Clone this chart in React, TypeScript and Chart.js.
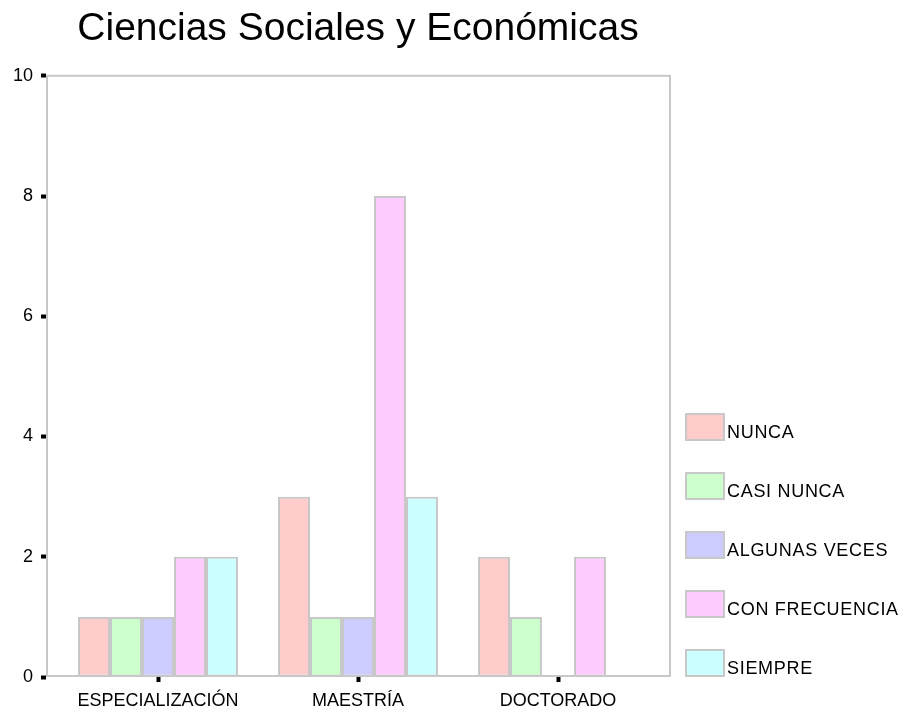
import { useEffect, useRef } from "react";
import { Chart, registerables } from "chart.js";

Chart.register(...registerables);

const categories = ["ESPECIALIZACIÓN", "MAESTRÍA", "DOCTORADO"];
const seriesNames = ["NUNCA", "CASI NUNCA", "ALGUNAS VECES", "CON FRECUENCIA", "SIEMPRE"];
const nunca = [1, 3, 2];
const casiNunca = [1, 1, 1];
const algunasVeces = [1, 1, 0];
const conFrecuencia = [2, 8, 2];
const siempre = [2, 3, 0];
const yTicks = [0, 2, 4, 6, 8, 10];
const seriesColors = ["#ffcccc", "#ccffcc", "#ccccff", "#ffccff", "#ccffff"];
const titleText = "Ciencias Sociales y Económicas";

const FONT = "'Liberation Sans', Arial, Helvetica, sans-serif";
const EDGE = "#c8c8c8";

const framePlugin = {
  id: "frame",
  beforeDatasetsDraw(chart: any) {
    const { ctx, chartArea: a } = chart;
    ctx.save();
    ctx.strokeStyle = EDGE;
    ctx.lineWidth = 2;
    ctx.strokeRect(a.left + 1, a.top, a.right - a.left - 1, a.bottom - a.top - 1);
    ctx.restore();
  },
};

const sideLegend = {
  id: "sideLegend",
  afterDraw(chart: any) {
    const { ctx, chartArea: a } = chart;
    const ds = chart.data.datasets;
    const n = ds.length;
    const boxW = 40;
    const boxH = 28;
    const step = 59;
    ctx.save();
    ds.forEach((d: any, i: number) => {
      const x = a.right + 15;
      const y = a.bottom - boxH - (n - 1 - i) * step;
      ctx.fillStyle = d.backgroundColor;
      ctx.fillRect(x, y, boxW, boxH);
      ctx.strokeStyle = EDGE;
      ctx.lineWidth = 2;
      ctx.strokeRect(x + 1, y + 1, boxW - 2, boxH - 2);
      ctx.fillStyle = "#000";
      ctx.font = `18px ${FONT}`;
      try {
        (ctx as any).letterSpacing = "0.7px";
      } catch (e) {}
      ctx.textAlign = "left";
      ctx.textBaseline = "alphabetic";
      ctx.fillText(d.label, x + boxW + 2, y + 25);
    });
    ctx.restore();
  },
};

export default function App() {
  const ref = useRef<HTMLCanvasElement | null>(null);

  useEffect(() => {
    if (!ref.current) return;
    const values = [nunca, casiNunca, algunasVeces, conFrecuencia, siempre];
    const chart = new Chart(ref.current, {
      type: "bar",
      data: {
        datasets: seriesNames.map((name, i) => ({
          label: name,
          data: values[i].map((v, j) => ({ x: j, y: v })),
          backgroundColor: seriesColors[i],
          borderColor: EDGE,
          borderWidth: (c: any) => (c.raw && c.raw.y === 0 ? 0 : 2),
          borderSkipped: false,
          categoryPercentage: 0.8,
          barPercentage: 1,
        })),
      },
      options: {
        responsive: false,
        animation: false,
        events: [],
        layout: { padding: { right: 236, left: 0, top: 0, bottom: 0 } },
        plugins: {
          legend: { display: false },
          tooltip: { enabled: false },
          title: {
            display: true,
            text: titleText,
            fullSize: false,
            color: "#000",
            font: { family: FONT, size: 39, weight: "normal" },
            padding: { top: 6, bottom: 23 },
          },
        },
        scales: {
          x: {
            type: "linear",
            min: -0.56,
            max: 2.56,
            offset: false,
            afterBuildTicks: (s: any) => {
              s.ticks = categories.map((_, i) => ({ value: i }));
            },
            afterFit: (s: any) => {
              s.height = 35;
            },
            grid: {
              offset: false,
              drawOnChartArea: false,
              drawTicks: true,
              tickLength: 5,
              tickWidth: 4,
              tickColor: "#000",
            },
            border: { display: false },
            ticks: {
              padding: 8,
              color: "#000",
              font: { family: FONT, size: 18 },
              maxRotation: 0,
              autoSkip: false,
              callback: (v: any) => categories[v as number] ?? "",
            },
          },
          y: {
            min: 0,
            max: 10,
            afterBuildTicks: (s: any) => {
              s.ticks = yTicks.map((v) => ({ value: v }));
            },
            afterFit: (s: any) => {
              s.width = 46;
            },
            grid: {
              drawOnChartArea: false,
              drawTicks: true,
              tickLength: 5,
              tickWidth: 4,
              tickColor: "#000",
            },
            border: { display: false },
            ticks: {
              padding: 8,
              color: "#000",
              font: { family: FONT, size: 18 },
            },
          },
        },
      },
      plugins: [framePlugin, sideLegend],
    } as any);
    return () => chart.destroy();
  }, []);

  return (
    <div style={{ position: "fixed", left: 0, top: 0, width: 906, height: 712, background: "#fff" }}>
      <canvas ref={ref} width={906} height={712} style={{ display: "block" }} />
    </div>
  );
}
